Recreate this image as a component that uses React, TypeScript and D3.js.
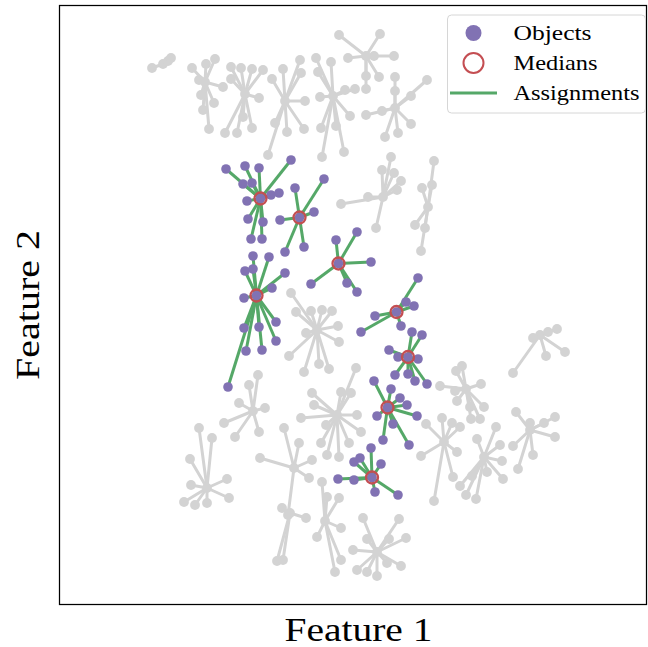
import React from "react";
import * as d3 from "d3";

type P = [number, number];

// Highlighted clusters (medians with their assigned objects)
const highlightMedians: P[] = [
  [201.5, 406.5], [240.5, 387.5], [279.5, 341.5], [197.5, 309.5],
  [337.5, 293], [349, 248], [328.5, 197.5], [313, 127.5],
];
const highlightObjects: P[][] = [
  [[167, 436], [186, 439], [200, 437], [232, 445], [184, 421], [193, 422], [212, 410], [220, 412], [188, 404], [189, 386], [204, 383], [192, 366], [203, 366]],
  [[236, 417], [265, 426], [255, 393], [221, 385], [226, 353], [245, 358]],
  [[277, 365], [298, 373], [312, 343], [252, 321], [288, 322], [298, 313]],
  [[194, 349], [210, 348], [186, 334], [194, 336], [226, 332], [213, 317], [185, 307], [185, 277], [200, 278], [217, 283], [217, 264], [187, 254], [203, 255], [169, 218]],
  [[359, 327], [347, 303], [355, 299], [316, 289], [302, 273], [342, 279]],
  [[353, 273], [363, 270], [330, 255], [339, 248], [359, 246], [336, 230], [349, 231], [356, 224], [368, 221]],
  [[315, 224], [332, 216], [341, 207], [348, 200], [318, 189], [358, 189], [334, 181], [324, 165], [350, 160]],
  [[312, 157], [301, 147], [295, 143], [322, 141], [279, 126], [295, 125], [316, 113], [339, 110]],
];

// Background clusters (grey)
const backgroundMedians: P[] = [
  [104, 541], [146, 523], [186, 511], [226, 504], [274, 509], [307, 549], [336, 497],
  [324, 408], [369, 398], [481, 270], [407, 216], [425, 148], [385, 163], [471, 175],
  [278, 190], [258, 275], [194, 194], [235, 137], [148, 117], [231, 92], [266, 84], [318, 53],
];
const backgroundObjects: P[][] = [
  [[93, 537], [109, 544], [112, 547]],
  [[133, 537], [147, 541], [156, 546], [164, 518], [142, 510], [155, 502], [144, 495], [150, 476], [140, 525]],
  [[172, 538], [182, 537], [193, 536], [204, 535], [172, 526], [200, 507], [166, 472], [178, 472], [193, 477], [184, 488]],
  [[213, 526], [224, 536], [241, 545], [242, 532], [246, 504], [216, 482], [228, 473], [245, 476], [209, 450]],
  [[257, 547], [272, 543], [259, 533], [261, 508], [286, 515], [296, 516], [291, 489], [262, 477], [277, 479], [263, 448], [285, 453]],
  [[280, 570], [321, 571], [289, 547], [335, 549], [320, 528], [307, 529], [307, 516], [315, 549]],
  [[336, 528], [336, 514], [368, 525], [352, 509], [307, 490], [323, 494], [352, 481], [326, 468], [339, 472]],
  [[332, 448], [323, 435], [335, 432], [342, 424], [338, 415], [309, 408], [282, 401], [317, 377]],
  [[375, 444], [373, 420], [363, 417], [356, 380], [366, 377], [362, 354]],
  [[498, 276], [489, 273], [474, 267], [487, 249], [506, 253], [454, 232]],
  [[397, 234], [403, 239], [422, 221], [381, 219], [396, 214], [398, 204], [411, 198], [425, 198], [412, 186], [421, 186]],
  [[418, 166], [437, 178], [441, 160], [443, 144], [444, 126], [428, 133], [413, 129], [401, 119], [407, 110], [417, 106]],
  [[367, 181], [383, 187], [393, 182], [401, 178], [398, 153], [362, 149], [394, 128], [375, 104]],
  [[457, 193], [471, 182], [485, 182], [496, 188], [496, 168], [474, 150], [454, 159], [459, 136]],
  [[253, 212], [282, 213], [292, 212], [255, 200], [242, 187], [267, 180], [298, 190], [302, 173], [290, 162], [262, 162], [268, 150], [280, 148], [297, 237]],
  [[232, 312], [237, 293], [252, 294], [263, 295], [273, 294], [279, 279], [247, 272], [280, 263], [230, 249], [245, 233], [260, 241], [270, 236]],
  [[190, 220], [199, 230], [180, 202], [165, 182], [176, 168], [200, 173], [206, 197]],
  [[225, 177], [240, 162], [253, 145], [250, 127], [201, 147], [229, 90]],
  [[140, 177], [153, 167], [131, 146], [132, 120], [168, 126], [170, 107], [148, 102], [136, 100], [125, 103]],
  [[223, 97], [247, 87], [218, 44], [224, 45]],
  [[263, 123], [268, 108], [280, 107], [258, 68], [282, 77], [282, 45], [276, 33]],
  [[304, 87], [340, 86], [308, 66], [330, 66], [347, 67], [294, 55], [298, 35], [308, 33], [318, 29], [328, 42], [342, 39]],
];

const legendLabels = ["Objects", "Medians", "Assignments"];
const xLabel = "Feature 1";
const yLabel = "Feature 2";

const PURPLE = "#8172b3";
const GREEN = "#55a868";
const RED = "#c44e52";
const GREY = "#d3d3d3";

const W = 648;
const H = 647;
const left = 59, right = 647, top = 5, bottom = 605;

export default function App() {
  const x = d3.scaleLinear().domain([0, 588]).range([left, right]);
  const y = d3.scaleLinear().domain([0, 600]).range([bottom, top]);
  const font = "'Liberation Serif', 'Times New Roman', serif";

  return (
    <svg width={W} height={H} style={{ position: "absolute", left: 0, top: 0, background: "#fff" }}>
      <rect x={0} y={0} width={W} height={H} fill="#fff" />
      <g>
        {backgroundMedians.map((m, i) =>
          backgroundObjects[i].map((p, j) => (
            <line key={`bl${i}-${j}`} x1={x(m[0])} y1={y(m[1])} x2={x(p[0])} y2={y(p[1])} stroke={GREY} strokeWidth={3} strokeLinecap="round" />
          ))
        )}
        {backgroundMedians.map((m, i) =>
          [m, ...backgroundObjects[i]].map((p, j) => (
            <circle key={`bp${i}-${j}`} cx={x(p[0])} cy={y(p[1])} r={4.9} fill={GREY} />
          ))
        )}
      </g>
      <g>
        {highlightMedians.map((m, i) =>
          highlightObjects[i].map((p, j) => (
            <line key={`hl${i}-${j}`} x1={x(m[0])} y1={y(m[1])} x2={x(p[0])} y2={y(p[1])} stroke={GREEN} strokeWidth={3} />
          ))
        )}
        {highlightMedians.map((m, i) =>
          [m, ...highlightObjects[i]].map((p, j) => (
            <circle key={`hp${i}-${j}`} cx={x(p[0])} cy={y(p[1])} r={4.8} fill={PURPLE} />
          ))
        )}
        {highlightMedians.map((m, i) => (
          <circle key={`hm${i}`} cx={x(m[0])} cy={y(m[1])} r={6} fill="none" stroke={RED} strokeWidth={2.3} />
        ))}
      </g>
      <rect x={left + 0.5} y={top + 0.5} width={right - left - 1} height={bottom - top - 1} fill="none" stroke="#000" strokeWidth={1.25} />

      {/* Legend */}
      <g>
        <rect x={447.5} y={15} width={198} height={98} rx={4} fill="#fff" fillOpacity={0.8} stroke="#d6d6d6" strokeWidth={1} />
        <circle cx={473.5} cy={33} r={8} fill={PURPLE} />
        <circle cx={473.5} cy={63} r={10} fill="none" stroke={RED} strokeWidth={2} />
        <line x1={450} x2={497} y1={93} y2={93} stroke={GREEN} strokeWidth={3} />
        {legendLabels.map((t, i) => (
          <text key={t} x={513.5} y={40 + i * 30} fontFamily={font} fontSize={22}
            textLength={[78, 84, 126][i]} lengthAdjust="spacingAndGlyphs" fill="#000">{t}</text>
        ))}
      </g>

      <text x={358.5} y={641} textAnchor="middle" fontFamily={font} fontSize={33} textLength={148} lengthAdjust="spacingAndGlyphs">{xLabel}</text>
      <text transform={`translate(39,305) rotate(-90)`} textAnchor="middle" fontFamily={font} fontSize={33} textLength={150} lengthAdjust="spacingAndGlyphs">{yLabel}</text>
    </svg>
  );
}
